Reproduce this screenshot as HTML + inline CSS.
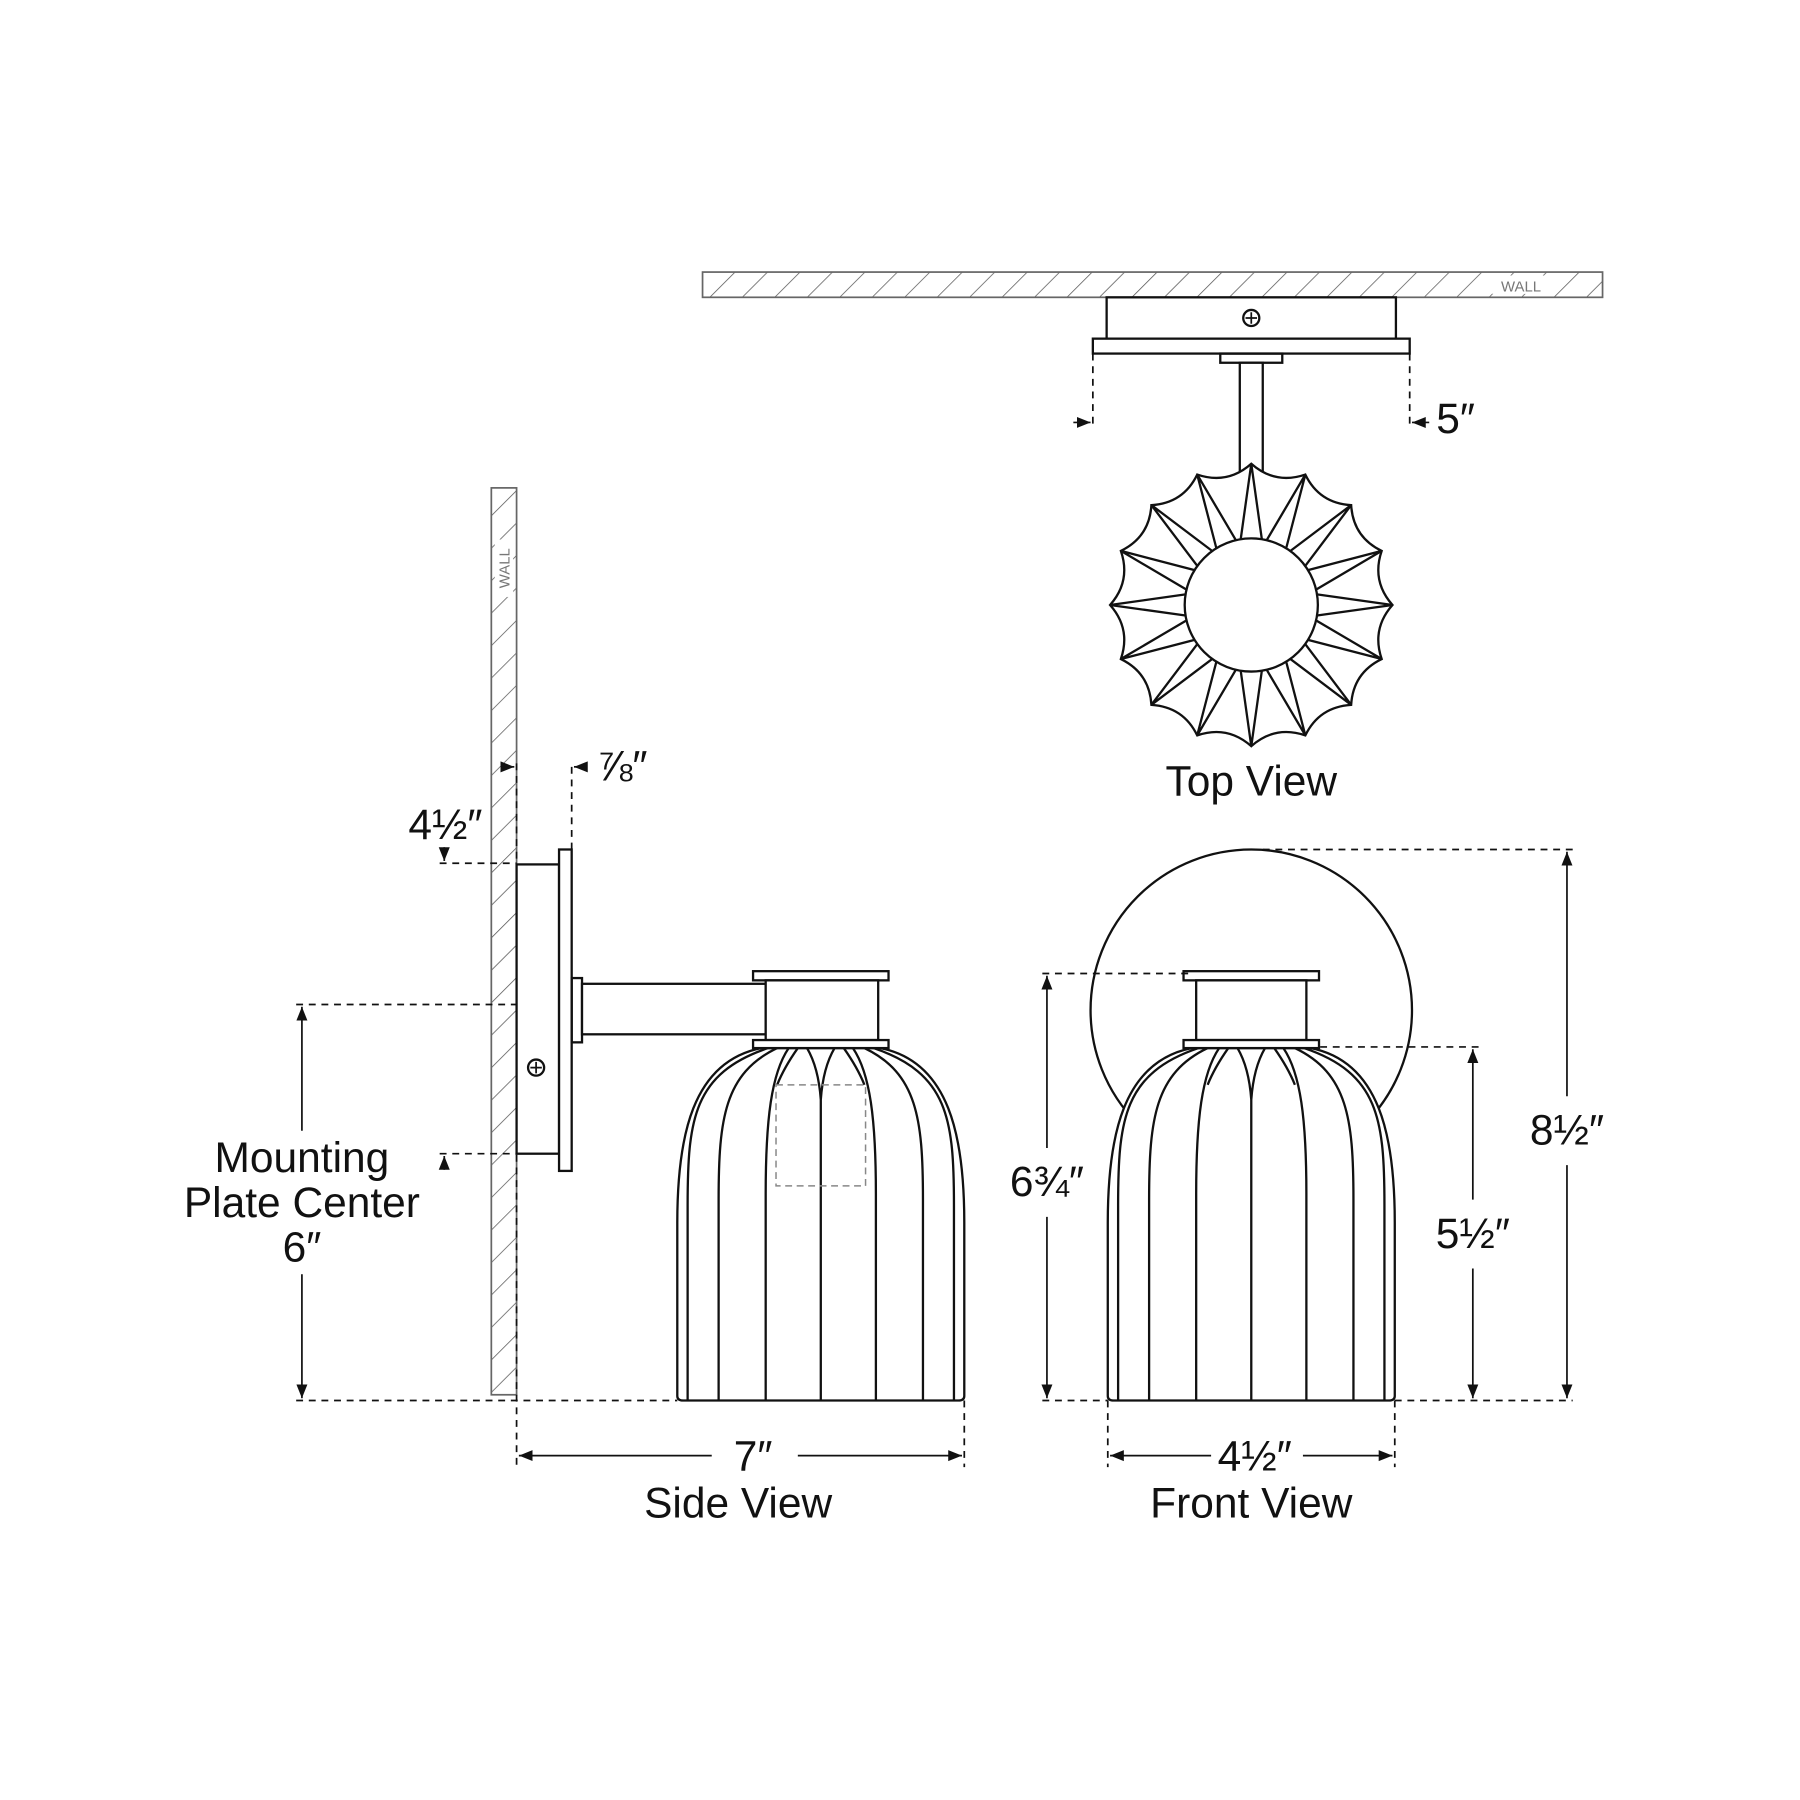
<!DOCTYPE html>
<html><head><meta charset="utf-8"><style>
html,body{margin:0;padding:0;background:#fff;}
svg{display:block;}
text{font-family:"Liberation Sans",sans-serif;fill:#111;}
</style></head><body>
<svg id="s" width="1800" height="1800" viewBox="0 0 1568 1568" xmlns="http://www.w3.org/2000/svg">
<defs>
<pattern id="h" width="20" height="20" patternUnits="userSpaceOnUse" patternTransform="rotate(45)">
<line x1="0" y1="0" x2="0" y2="20" stroke="#555" stroke-width="1.3"/>
</pattern>
<marker id="a" viewBox="0 0 10 10" refX="10" refY="5" markerWidth="8" markerHeight="8" orient="auto-start-reverse">
<path d="M0,1 L10,5 L0,9 z" fill="#111"/></marker>
</defs>
<g fill="none" stroke="#111" stroke-width="2">
<rect x="612" y="237" width="784" height="22" fill="url(#h)" stroke="#666" stroke-width="1.5"/>
<rect x="1300" y="240" width="50" height="16" fill="#fff" stroke="none"/>
<rect x="964" y="259" width="252" height="36" fill="#fff"/>
<rect x="952" y="295" width="276" height="13" fill="#fff"/>
<circle cx="1090" cy="277" r="7"/><path d="M1085,277h10M1090,272v10" stroke-width="1.5"/>
<rect x="1063" y="308" width="54" height="8"/>
<rect x="1080" y="316" width="20" height="160" fill="#fff"/>
<g stroke-dasharray="6,5" stroke-width="1.5"><line x1="952" y1="308" x2="952" y2="372"/><line x1="1228" y1="308" x2="1228" y2="372"/></g>
<line x1="935" y1="368" x2="950" y2="368" marker-end="url(#a)" stroke-width="1.5"/>
<line x1="1245" y1="368" x2="1230" y2="368" marker-end="url(#a)" stroke-width="1.5"/>
<g id="scal"></g>
<rect x="428" y="425" width="22" height="790" fill="url(#h)" stroke="#666" stroke-width="1.5"/>
<rect x="431" y="470" width="16" height="50" fill="#fff" stroke="none"/>
<rect x="450" y="753" width="37" height="252" fill="#fff"/>
<rect x="487" y="740" width="11" height="280" fill="#fff"/>
<circle cx="467" cy="930" r="7"/><path d="M462,930h10M467,925v10" stroke-width="1.5"/>
<rect x="498" y="852" width="9" height="56"/>
<rect x="507" y="857" width="160" height="44" fill="#fff"/>
<g id="shS"></g>
<rect x="676" y="945" width="78" height="88" stroke-dasharray="6,4" stroke-width="1.3" stroke="#888"/>
<rect x="656" y="846" width="118" height="8" fill="#fff"/>
<rect x="667" y="854" width="98" height="52" fill="#fff"/>
<rect x="656" y="906" width="118" height="7" fill="#fff"/>
<circle cx="1090" cy="880" r="140" fill="#fff"/>
<g id="shF"></g>
<rect x="1031" y="846" width="118" height="8" fill="#fff"/>
<rect x="1042" y="854" width="96" height="52" fill="#fff"/>
<rect x="1031" y="906" width="118" height="7" fill="#fff"/>
<g stroke-dasharray="6,5" stroke-width="1.5">
<line x1="450" y1="665" x2="450" y2="1278"/>
<line x1="498" y1="668" x2="498" y2="740"/>
<line x1="383" y1="752" x2="450" y2="752"/>
<line x1="383" y1="1005" x2="450" y2="1005"/>
<line x1="258" y1="875" x2="450" y2="875"/>
<line x1="258" y1="1220" x2="590" y2="1220"/>
<line x1="840" y1="1220" x2="840" y2="1278"/>
<line x1="1100" y1="740" x2="1370" y2="740"/>
<line x1="908" y1="848" x2="1035" y2="848"/>
<line x1="1150" y1="912" x2="1288" y2="912"/>
<line x1="908" y1="1220" x2="965" y2="1220"/>
<line x1="1215" y1="1220" x2="1370" y2="1220"/>
<line x1="965" y1="1220" x2="965" y2="1278"/>
<line x1="1215" y1="1220" x2="1215" y2="1278"/>
</g>
<g stroke-width="1.5">
<line x1="437" y1="668" x2="448" y2="668" marker-end="url(#a)"/>
<line x1="511" y1="668" x2="500" y2="668" marker-end="url(#a)"/>
<line x1="387" y1="738" x2="387" y2="750" marker-end="url(#a)"/>
<line x1="387" y1="1019" x2="387" y2="1007" marker-end="url(#a)"/>
<line x1="263" y1="985" x2="263" y2="877" marker-end="url(#a)"/>
<line x1="263" y1="1110" x2="263" y2="1218" marker-end="url(#a)"/>
<line x1="620" y1="1268" x2="452" y2="1268" marker-end="url(#a)"/>
<line x1="695" y1="1268" x2="838" y2="1268" marker-end="url(#a)"/>
<line x1="1365" y1="955" x2="1365" y2="742" marker-end="url(#a)"/>
<line x1="1365" y1="1015" x2="1365" y2="1218" marker-end="url(#a)"/>
<line x1="912" y1="1000" x2="912" y2="850" marker-end="url(#a)"/>
<line x1="912" y1="1060" x2="912" y2="1218" marker-end="url(#a)"/>
<line x1="1283" y1="1045" x2="1283" y2="914" marker-end="url(#a)"/>
<line x1="1283" y1="1105" x2="1283" y2="1218" marker-end="url(#a)"/>
<line x1="1055" y1="1268" x2="967" y2="1268" marker-end="url(#a)"/>
<line x1="1135" y1="1268" x2="1213" y2="1268" marker-end="url(#a)"/>
</g>
</g>
<text x="1325" y="254" font-size="13" text-anchor="middle" style="fill:#777">WALL</text>
<text transform="translate(444,495) rotate(-90)" font-size="13" text-anchor="middle" style="fill:#777">WALL</text>
<g font-size="37" text-anchor="middle">
<text x="1268" y="377">5″</text>
<text x="1090" y="693">Top View</text>
<text x="542" y="680">⅞″</text>
<text x="388" y="731">4½″</text>
<text x="263" y="1021">Mounting</text>
<text x="263" y="1060">Plate Center</text>
<text x="263" y="1099">6″</text>
<text x="656" y="1281">7″</text>
<text x="643" y="1322">Side View</text>
<text x="1093" y="1281">4½″</text>
<text x="1090" y="1322">Front View</text>
<text x="1365" y="997">8½″</text>
<text x="912" y="1042">6¾″</text>
<text x="1283" y="1087">5½″</text>
</g>
</svg>
<script>
var NS="http://www.w3.org/2000/svg";
function P(g,d,f){var p=document.createElementNS(NS,"path");p.setAttribute("d",d);if(f)p.setAttribute("fill",f);document.getElementById(g).appendChild(p);}
var cx=1090,cy=527,n=16,R=123,r=58,d="";
function pt(rad,a){return (cx+rad*Math.cos(a)).toFixed(1)+","+(cy+rad*Math.sin(a)).toFixed(1);}
for(var i=0;i<n;i++){var a0=i*2*Math.PI/n,a1=(i+1)*2*Math.PI/n,am=(a0+a1)/2;
d+=(i==0?"M"+pt(R,a0):"")+" Q"+pt(R*Math.cos(Math.PI/n)-14,am)+" "+pt(R,a1);}
P("scal",d+"Z","#fff");
var l="";
for(var i=0;i<n;i++){var a=i*2*Math.PI/n;l+="M"+pt(r,a-0.16)+" L"+pt(R,a)+" L"+pt(r,a+0.16)+" ";}
P("scal",l);
var c=document.createElementNS(NS,"circle");c.setAttribute("cx",cx);c.setAttribute("cy",cy);c.setAttribute("r",r);c.setAttribute("fill","#fff");document.getElementById("scal").appendChild(c);
function shade(g,c){
P(g,"M"+(c-52)+",913 C"+(c-112)+",925 "+(c-125)+",990 "+(c-125)+",1065 L"+(c-125)+",1216 Q"+(c-125)+",1220 "+(c-120)+",1220 L"+(c+120)+",1220 Q"+(c+125)+",1220 "+(c+125)+",1216 L"+(c+125)+",1065 C"+(c+125)+",990 "+(c+112)+",925 "+(c+52)+",913 Z","#fff");
var b=[116,89,48],t=[46,38,28],y=[1050,1045,1040],d="";
for(var s=-1;s<=1;s+=2)for(var i=0;i<3;i++){d+="M"+(c+s*t[i])+",913 C"+(c+s*(b[i]-5))+",935 "+(c+s*b[i])+",975 "+(c+s*b[i])+","+y[i]+" L"+(c+s*b[i])+",1220 ";}
d+="M"+c+",958 L"+c+",1220 ";
d+="M"+(c-12)+",913 Q"+(c-2)+",930 "+c+",958 Q"+(c+2)+",930 "+(c+12)+",913 ";
d+="M"+(c-20)+",913 Q"+(c-32)+",930 "+(c-38)+",945 M"+(c+20)+",913 Q"+(c+32)+",930 "+(c+38)+",945";
P(g,d);}
shade("shS",715);shade("shF",1090);
</script>
</body></html>
